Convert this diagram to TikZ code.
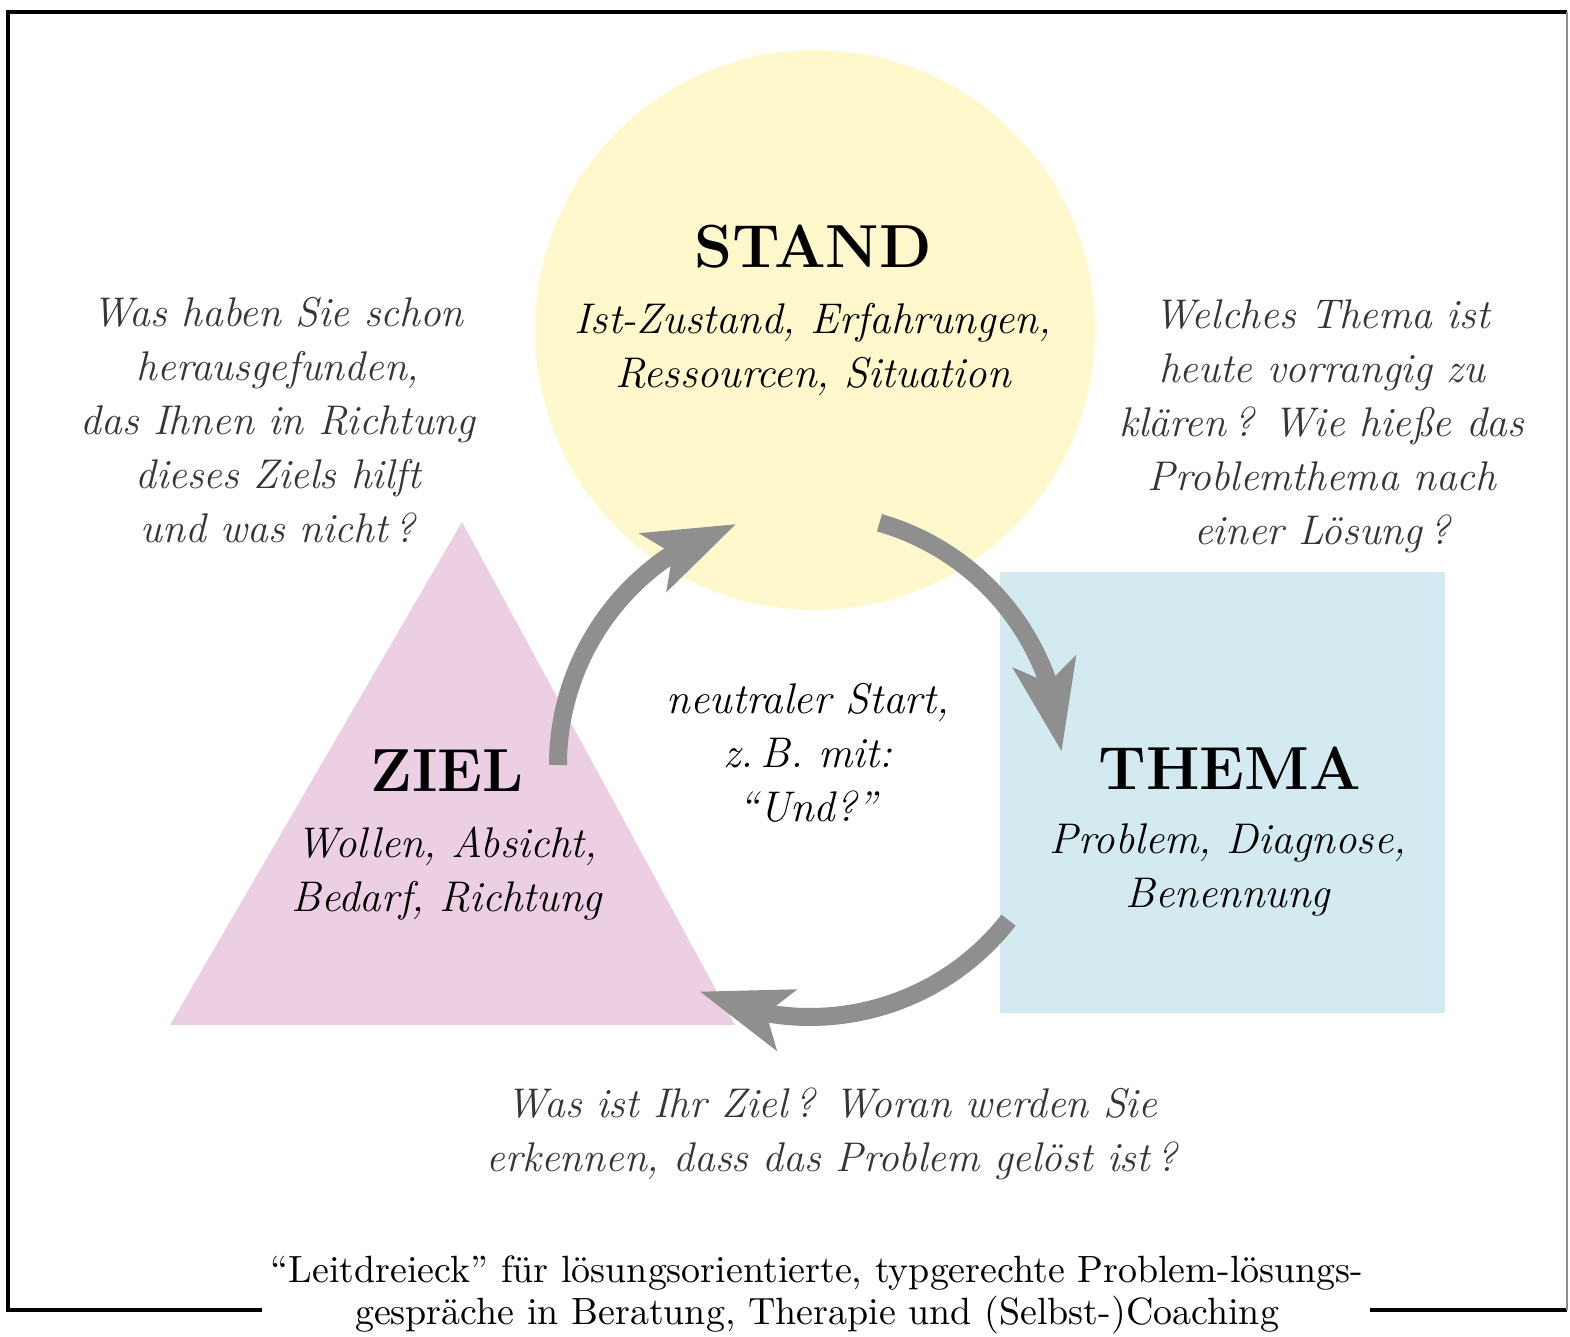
\documentclass[tikz,border=0pt]{standalone}
\usepackage{fontspec}
\usetikzlibrary{arrows.meta,bending,positioning}
\definecolor{standgelb}{HTML}{FFF8CC}
\definecolor{themablau}{HTML}{D3EAF0}
\definecolor{zielrosa}{HTML}{EDCFE4}
\definecolor{pfeilgrau}{HTML}{8F8F8F}
\definecolor{fragegrau}{HTML}{353535}
\def\kx{8.10}
\def\ky{5.72}
\def\kr{2.52}
\def\rl{0.08}
\def\rr{15.67}
\def\ru{0.27}
\def\ro{13.25}
\begin{document}
\begin{tikzpicture}[
    kopf/.style={font=\fontsize{17.3}{20}\selectfont\bfseries, inner sep=0pt, anchor=base},
    unter/.style={font=\fontsize{12.2}{15.5}\selectfont\itshape, align=center, inner sep=0pt, anchor=base},
    frage/.style={unter, font=\fontsize{11.8}{15.4}\selectfont\itshape, text=fragegrau},
    legende/.style={font=\fontsize{10.8}{12.2}\selectfont, align=center, inner sep=0pt, anchor=base},
    kreispfeil/.style={draw=pfeilgrau, line width=0.18cm, -{Stealth[length=9mm,width=6.2mm,inset=2mm]}}
]
        \useasboundingbox (0,0) rectangle (15.70,13.37);
        \draw[line width=1pt] (2.62,\ru) -- (\rl,\ru) -- (\rl,\ro) -- (\rr,\ro);
        \draw[line width=1pt] (13.70,\ru) -- (\rr,\ru);
        \draw[pfeilgrau, line width=0.5pt] (\rr,\ro) -- (\rr,\ru);

        \node[circle, fill=standgelb, minimum size=5.6cm, inner sep=0pt] (stand) at (8.15,10.07) {};
        \fill[themablau] (10.00,3.24) rectangle (14.45,7.65);
        \coordinate (spitze) at (4.62,8.15);
        \coordinate (links) at (1.70,3.12);
        \coordinate (rechts) at (7.35,3.12);
        \fill[zielrosa] (spitze) -- (links) -- (rechts) -- cycle;

        \coordinate (mitte) at (\kx,\ky);
        \coordinate (zielaus) at ([shift={(180:\kr)}]mitte);
        \coordinate (standaus) at ([shift={(74:\kr)}]mitte);
        \coordinate (themaaus) at ([shift={(-38:\kr)}]mitte);
        \draw[kreispfeil] (zielaus) arc[start angle=180, end angle=107, radius=\kr];
        \draw[kreispfeil] (standaus) arc[start angle=74, end angle=3, radius=\kr];
        \draw[kreispfeil] (themaaus) arc[start angle=-38, end angle=-116, radius=\kr];

        \node[kopf] (standkopf) at (8.13,10.69) {STAND};
        \node[unter] (standtext) at (8.13,9.49) {Ist-Zustand, Erfahrungen,\\Ressourcen, Situation};
        \node[kopf] (zielkopf) at (4.47,5.45) {ZIEL};
        \node[unter] (zieltext) at (4.47,4.25) {Wollen, Absicht,\\Bedarf, Richtung};
        \node[kopf] (themakopf) at (12.30,5.47) {THEMA};
        \node[unter] (thematext) at (12.28,4.29) {Problem, Diagnose,\\Benennung};
        \node[unter] (start) at (8.08,5.15) {neutraler Start,\\z.\,B. mit:\\“Und?”};

        \node[frage] (frageziel) at (2.78,7.94) {Was haben Sie schon\\herausgefunden,\\das Ihnen in Richtung\\dieses Ziels hilft\\und was nicht\,?};
        \node[frage] (fragethema) at (13.22,7.92) {Welches Thema ist\\heute vorrangig zu\\klären\,? Wie hieße das\\Problemthema nach\\einer Lösung\,?};
        \node[frage] (fragestand) at (8.32,1.65) {Was ist Ihr Ziel\,? Woran werden Sie\\erkennen, dass das Problem gelöst ist\,?};

        \node[legende] (leitdreieck) at (8.17,0.12) {“Leitdreieck” für lösungsorientierte, typgerechte Problem-lösungs-\\gespräche in Beratung, Therapie und (Selbst-)Coaching};
\end{tikzpicture}
\end{document}
